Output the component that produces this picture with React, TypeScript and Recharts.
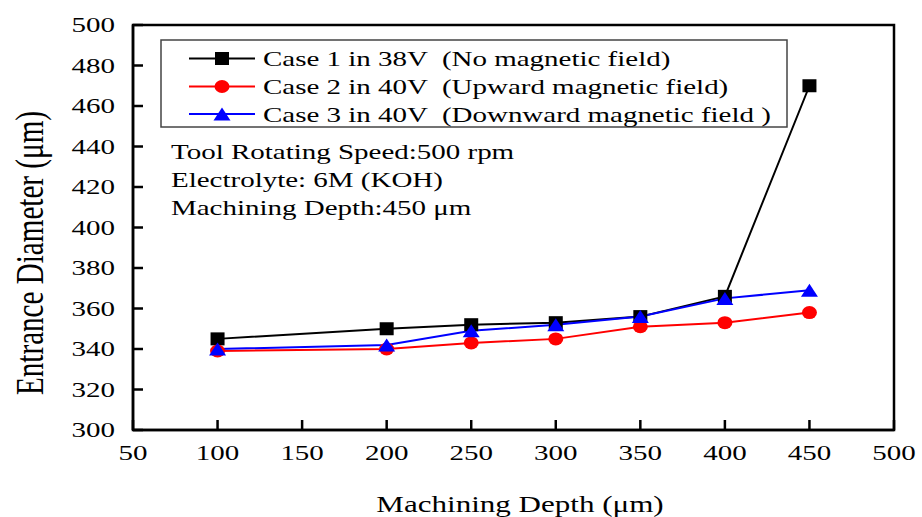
// Entrance diameter vs machining depth, three magnetic-field cases.
// Source picture is stretched wide, so all text is drawn with a horizontal scale.

import { LineChart, Line, XAxis, YAxis, ReferenceArea } from 'recharts';

const depth = [100, 200, 250, 300, 350, 400, 450];
const case1 = [345, 350, 352, 353, 356, 366, 470];
const case2 = [339, 340, 343, 345, 351, 353, 358];
const case3 = [340, 342, 349, 352, 356, 365, 369];

const xTicks = [50, 100, 150, 200, 250, 300, 350, 400, 450, 500];
const yTicks = [300, 320, 340, 360, 380, 400, 420, 440, 460, 480, 500];

const seriesNames = [
  'Case 1 in 38V  (No magnetic field)',
  'Case 2 in 40V  (Upward magnetic field)',
  'Case 3 in 40V  (Downward magnetic field )',
];
const notes = ['Tool Rotating Speed:500 rpm', 'Electrolyte: 6M (KOH)', 'Machining Depth:450 μm'];

const data = depth.map((d, i) => ({ depth: d, c1: case1[i], c2: case2[i], c3: case3[i] }));

const FONT = '"Liberation Serif", "Times New Roman", serif';
const SX = 1.38;

const SText = ({ x, y, size, anchor = 'start', children }: any) => (
  <g transform={`translate(${x},${y}) scale(${SX},1)`}>
    <text x={0} y={0} fontSize={size} textAnchor={anchor} fontFamily={FONT} fill="#000"
      xmlSpace="preserve" style={{ whiteSpace: 'pre' }}>
      {children}
    </text>
  </g>
);

const XTick = ({ x, y, payload }: any) => (
  <g>
    <line x1={x} y1={y} x2={x} y2={y - 10} stroke="#000" strokeWidth={2.5} />
    <SText x={x} y={y + 30} size={21} anchor="middle">{payload.value}</SText>
  </g>
);

const YTick = ({ x, y, payload }: any) => (
  <g>
    <line x1={x} y1={y} x2={x + 10} y2={y} stroke="#000" strokeWidth={2.5} />
    <SText x={x - 18} y={y + 7} size={21} anchor="end">{payload.value}</SText>
  </g>
);

const square = (cx: number, cy: number, key?: any) => (
  <rect key={key} x={cx - 7} y={cy - 6.5} width={14} height={13} fill="#000" />
);
const circle = (cx: number, cy: number, key?: any) => (
  <ellipse key={key} cx={cx} cy={cy} rx={7.5} ry={6.5} fill="#ff0000" />
);
const triangle = (cx: number, cy: number, key?: any) => (
  <polygon key={key} points={`${cx - 8.5},${cy + 6.5} ${cx + 8.5},${cy + 6.5} ${cx},${cy - 6.5}`} fill="#0000ff" />
);

const markers = [square, circle, triangle];
const colors = ['#000000', '#ff0000', '#0000ff'];
const rowY = [58.5, 86.5, 114];

const App = () => (
  <div style={{ position: 'absolute', left: 0, top: 0, width: 922, height: 517, background: '#fff' }}>
    <LineChart width={922} height={517} data={data} margin={{ top: 25, right: 28, bottom: 0, left: 0 }}>
      <XAxis dataKey="depth" type="number" domain={[50, 500]} ticks={xTicks} interval={0}
        height={87} tickSize={0} tickMargin={0} tick={XTick} tickLine={false}
        axisLine={{ stroke: '#000', strokeWidth: 2.5 }} />
      <YAxis type="number" domain={[300, 500]} ticks={yTicks} interval={0}
        width={133} tickSize={0} tickMargin={0} tick={YTick} tickLine={false}
        axisLine={{ stroke: '#000', strokeWidth: 2.5 }} />
      <ReferenceArea x1={50} x2={500} y1={300} y2={500} fill="none" fillOpacity={0} stroke="#000" strokeWidth={2.5} />
      <Line dataKey="c1" stroke="#000" strokeWidth={2} isAnimationActive={false} activeDot={false}
        dot={(p: any) => square(p.cx, p.cy, p.index)} />
      <Line dataKey="c2" stroke="#ff0000" strokeWidth={2} isAnimationActive={false} activeDot={false}
        dot={(p: any) => circle(p.cx, p.cy, p.index)} />
      <Line dataKey="c3" stroke="#0000ff" strokeWidth={2} isAnimationActive={false} activeDot={false}
        dot={(p: any) => triangle(p.cx, p.cy, p.index)} />
    </LineChart>

    <svg width={922} height={517} style={{ position: 'absolute', left: 0, top: 0, pointerEvents: 'none' }}>
      {/* legend */}
      <rect x={161} y={40} width={626} height={87} fill="none" stroke="#444" strokeWidth={1.5} />
      {seriesNames.map((name, i) => (
        <g key={name}>
          <line x1={189} x2={255} y1={rowY[i]} y2={rowY[i]} stroke={colors[i]} strokeWidth={2} />
          {markers[i](222, rowY[i])}
          <SText x={263} y={rowY[i] + 7.5} size={21}>{name}</SText>
        </g>
      ))}

      {/* conditions */}
      {notes.map((t, i) => (
        <SText key={t} x={171} y={159 + i * 28} size={21}>{t}</SText>
      ))}

      {/* axis titles */}
      <SText x={520} y={512} size={22.5} anchor="middle">Machining Depth (μm)</SText>
      <g transform="translate(43,253) rotate(-90) scale(1,1.4)">
        <text x={0} y={0} fontSize={29} textAnchor="middle" fontFamily={FONT} fill="#000"
          textLength={284} lengthAdjust="spacingAndGlyphs">
          Entrance Diameter (μm)
        </text>
      </g>
    </svg>
  </div>
);

export default App;
